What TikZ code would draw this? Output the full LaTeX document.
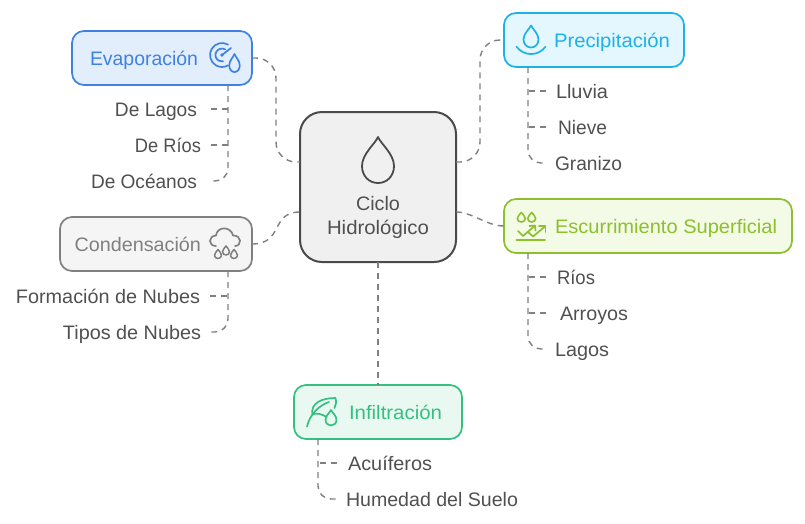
\documentclass[tikz,border=0pt]{standalone}
\usepackage{fontspec}
\usepackage{graphicx}
\setmainfont{Liberation Sans}
\definecolor{cEv}{HTML}{3F81E3}\definecolor{fEv}{HTML}{E3EEFD}
\definecolor{cPr}{HTML}{1DB1E7}\definecolor{fPr}{HTML}{E4F7FE}
\definecolor{cEs}{HTML}{8DBF2E}\definecolor{fEs}{HTML}{F3FAE6}
\definecolor{cIn}{HTML}{35C081}\definecolor{fIn}{HTML}{E9F9F2}
\definecolor{cCo}{HTML}{808080}\definecolor{fCo}{HTML}{F5F5F5}
\definecolor{cCe}{HTML}{4A4A4A}\definecolor{fCe}{HTML}{F0F0F0}
\definecolor{cTx}{HTML}{505050}
\definecolor{cLn}{HTML}{808080}
\newcommand{\fw}[2]{\resizebox{#1pt}{\height}{#2}}
\newcommand{\teardrop}[5][]{\draw[#1,shift={(#2,#3)},xscale=#4/32,yscale=#5/46,line join=round]
  (0,0) .. controls (-3,7) and (-16,17) .. (-16,29) .. controls (-16,39) and (-9,46) .. (0,46)
  .. controls (9,46) and (16,39) .. (16,29) .. controls (16,17) and (3,7) .. (0,0) -- cycle;}
\tikzset{
  x=1pt,y=-1pt,
  boxnode/.style={draw,rectangle,rounded corners=12pt,line width=1.7pt,inner sep=0,outer sep=0},
  hubnode/.style={boxnode,rounded corners=22pt,line width=2pt,draw=cCe,fill=fCe},
  labelnode/.style={font=\fontsize{19.5}{24}\selectfont,inner ysep=0,inner xsep=0,outer sep=0,text height=14pt,text depth=0pt},
  itemnode/.style={labelnode,text=cTx},
  conn/.style={draw=cLn,line width=1.4pt,dash pattern=on 6pt off 5pt},
  curve/.style={conn,rounded corners=20pt},
  trunk/.style={conn,rounded corners=13pt},
  icon/.style={line width=1.7pt,line cap=round,line join=round}
}
\begin{document}
\begin{tikzpicture}
\useasboundingbox (0,0) rectangle (805,523);
% boxes
\node[hubnode,minimum width=156pt,minimum height=150pt] (hub) at (378,187) {};
\node[boxnode,draw=cEv,fill=fEv,minimum width=180pt,minimum height=54pt] (ev) at (162,58) {};
\node[boxnode,draw=cCo,fill=fCo,minimum width=192pt,minimum height=54pt] (co) at (156,244) {};
\node[boxnode,draw=cPr,fill=fPr,minimum width=180pt,minimum height=54pt] (pr) at (594,40) {};
\node[boxnode,draw=cEs,fill=fEs,minimum width=288pt,minimum height=54pt] (es) at (648,226) {};
\node[boxnode,draw=cIn,fill=fIn,minimum width=168pt,minimum height=54pt] (in) at (378,412) {};
% labels
\node[font=\fontsize{19.5}{24}\selectfont,text=cTx,align=center,inner sep=0] (hubt) at (378,217.5) {\fw{44}{Ciclo}\\\fw{102}{Hidrológico}};
\node[labelnode,anchor=west,text=cEv] (evt) at (90,58) {\fw{108}{Evaporación}};
\node[labelnode,anchor=west,text=cCo] (cot) at (74.5,244) {\fw{126.5}{Condensación}};
\node[labelnode,anchor=west,text=cPr] (prt) at (554,40) {\fw{116}{Precipitación}};
\node[labelnode,anchor=west,text=cEs] (est) at (555,226) {\fw{222}{Escurrimiento Superficial}};
\node[labelnode,anchor=west,text=cIn] (int) at (349,412) {\fw{93}{Infiltración}};
% items left
\node[itemnode,anchor=east,inner xsep=14pt] (e1) at (211,109) {\fw{82}{De Lagos}};
\node[itemnode,anchor=east,inner xsep=10pt] (e2) at (211,145) {\fw{66}{De Ríos}};
\node[itemnode,anchor=east,inner xsep=14pt] (e3) at (211,181) {\fw{106}{De Océanos}};
\node[itemnode,anchor=east,inner xsep=10pt] (c1) at (210,296) {\fw{184}{Formación de Nubes}};
\node[itemnode,anchor=east,inner xsep=9pt] (c2) at (210,332) {\fw{138}{Tipos de Nubes}};
% items right
\node[itemnode,anchor=west,inner xsep=10pt] (p1) at (546,91) {\fw{52}{Lluvia}};
\node[itemnode,anchor=west,inner xsep=12pt] (p2) at (546,127) {\fw{49}{Nieve}};
\node[itemnode,anchor=west,inner xsep=9pt] (p3) at (546,163) {\fw{67}{Granizo}};
\node[itemnode,anchor=west,inner xsep=11pt] (s1) at (546,277) {\fw{38}{Ríos}};
\node[itemnode,anchor=west,inner xsep=14pt] (s2) at (546,313) {\fw{68}{Arroyos}};
\node[itemnode,anchor=west,inner xsep=9pt] (s3) at (546,349) {\fw{54}{Lagos}};
\node[itemnode,anchor=west,inner xsep=11pt] (i1) at (337,463) {\fw{84}{Acuíferos}};
\node[itemnode,anchor=west,inner xsep=9pt] (i2) at (337,499) {\fw{172}{Humedad del Suelo}};
% anchors on borders
\coordinate (hubNW) at ([yshift=25pt]hub.west);
\coordinate (hubSW) at ([yshift=-25pt]hub.west);
\coordinate (hubNE) at ([yshift=25pt]hub.east);
\coordinate (hubSE) at ([yshift=-25pt]hub.east);
\coordinate (evb) at (228,85);
\coordinate (cob) at (228,271);
\coordinate (prb) at (528,67);
\coordinate (esb) at (528,253);
\coordinate (inb) at (318,439);
% main connectors
\draw[curve] (ev.east) -- (276,58) -- (276,162) -- (hubNW);
\draw[conn] (co.east) .. controls (284,244) and (270,212) .. (hubSW);
\draw[curve] (hubNE) -- (480,162) -- (480,40) -- (pr.west);
\draw[conn] (hubSE) .. controls (472,212) and (487,226) .. (es.west);
\draw[conn] (hub.south) -- (in.north);
% item connectors
\draw[conn] (e1.east) -- (e1.east -| evb);
\draw[conn] (e2.east) -- (e2.east -| evb);
\draw[trunk] (evb) -- (evb |- e3.east) -- (e3.east);
\draw[conn] (c1.east) -- (c1.east -| cob);
\draw[trunk] (cob) -- (cob |- c2.east) -- (c2.east);
\draw[conn] (p1.west) -- (p1.west -| prb);
\draw[conn] (p2.west) -- (p2.west -| prb);
\draw[trunk] (prb) -- (prb |- p3.west) -- (p3.west);
\draw[conn] (s1.west) -- (s1.west -| esb);
\draw[conn] (s2.west) -- (s2.west -| esb);
\draw[trunk] (esb) -- (esb |- s3.west) -- (s3.west);
\draw[conn] (i1.west) -- (i1.west -| inb);
\draw[trunk] (inb) -- (inb |- i2.west) -- (i2.west);
% hub drop
\teardrop[cCe,line width=1.8pt]{378}{137}{32}{46}
% evaporation icon
\begin{scope}[icon,draw=cEv]
\draw (228,44.6) arc[start angle=-60,end angle=-300,radius=12];
\draw (225.2,49.4) arc[start angle=-60,end angle=-280,radius=6.5];
\draw (222,55) -- (231,48);
\fill[cEv] (222,55) circle[radius=1.8];
\teardrop[cEv,line width=1.7pt]{234.5}{54}{10.5}{18}
\end{scope}
% cloud icon
\begin{scope}[icon,draw=cCo]
\draw (216,246) .. controls (208,246) and (208,236) .. (216,235.5) .. controls (217,226) and (231,226) .. (233,235.5)
  .. controls (242,235) and (242,246) .. (235,246);
\teardrop[cCo,line width=1.5pt]{218}{249.5}{7}{9}
\teardrop[cCo,line width=1.5pt]{226}{246}{7}{9}
\teardrop[cCo,line width=1.5pt]{234}{249.5}{7}{9}
\end{scope}
% precipitation icon
\begin{scope}[icon,draw=cPr]
\teardrop[cPr,line width=1.7pt]{531}{25.5}{15}{22}
\draw (516.5,46.7) .. controls (524,56.5) and (538,56.5) .. (545.5,46.7);
\end{scope}
% runoff icon
\begin{scope}[icon,draw=cEs]
\teardrop[cEs,line width=1.6pt]{521.3}{212.5}{8}{9.5}
\teardrop[cEs,line width=1.6pt]{531.7}{212.5}{8}{9.5}
\draw (516.5,240) -- (545,240);
\draw (518,231) -- (523,236) -- (534,226.5);
\draw (529.5,226) -- (535,225.5) -- (535.5,230.5);
\draw (528,232) -- (533,236.5) -- (545,226.5);
\draw (539,226) -- (545.5,226) -- (545.5,232);
\end{scope}
% leaf icon
\begin{scope}[icon,draw=cIn]
\draw (307,426.5) .. controls (310,414) and (319,405.5) .. (329,402);
\draw (312.5,415) .. controls (310,403) and (322,398) .. (335.5,398) .. controls (336.5,402) and (336,405) .. (334.5,408);
\draw (312.5,414.5) .. controls (316,412.5) and (322,414) .. (326.5,417);
\teardrop[cIn,line width=1.7pt]{331}{410}{11}{15.5}
\end{scope}
\end{tikzpicture}
\end{document}
